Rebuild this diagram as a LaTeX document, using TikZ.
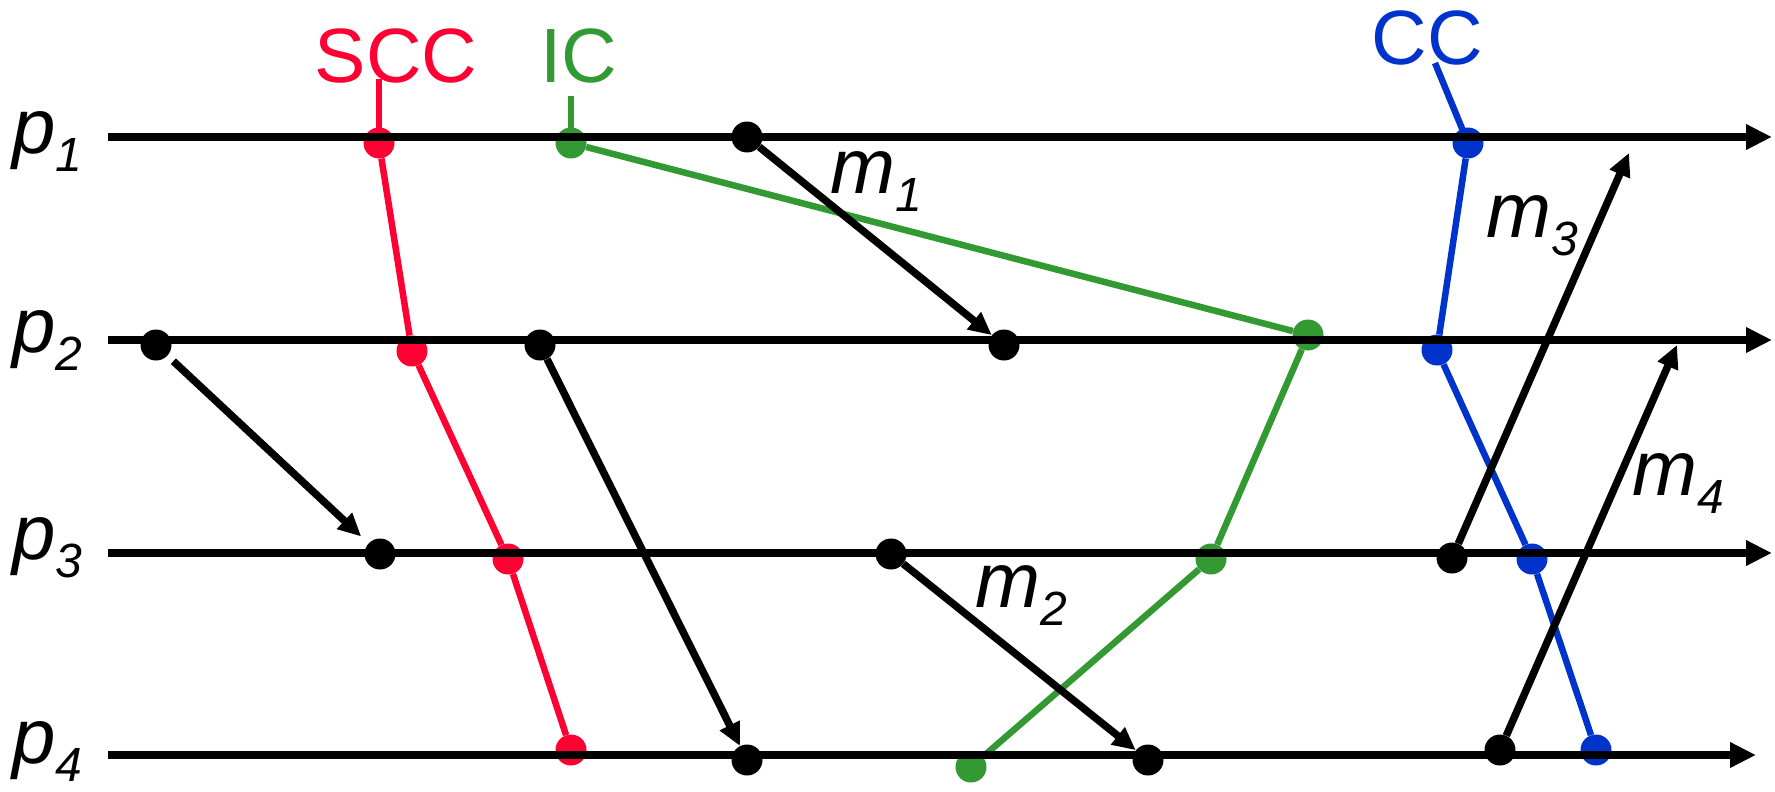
\documentclass[tikz,border=0pt]{standalone}
\usepackage{fontspec}
\setmainfont{Liberation Sans}
\usetikzlibrary{arrows.meta}
\definecolor{cred}{RGB}{255,0,51}
\definecolor{cgreen}{RGB}{51,153,51}
\definecolor{cblue}{RGB}{0,51,204}
\newcommand\mylab[2]{\textit{#1}\raisebox{-18pt}{\fontsize{48}{48}\selectfont\textit{#2}}}
\begin{document}
\begin{tikzpicture}[x=1pt,y=-1pt,
  dot/.style={circle,inner sep=0pt,minimum size=31pt,fill=black},
  rdot/.style={dot,fill=cred},
  gdot/.style={dot,fill=cgreen},
  bdot/.style={dot,fill=cblue},
  proc/.style={line width=8.3pt,-{Triangle[length=26pt,width=24pt]}},
  msg/.style={line width=7.5pt,-{Triangle[length=23pt,width=21pt]}},
  chain/.style={line width=6.5pt},
  lab/.style={inner sep=0pt,anchor=base west,font=\fontsize{78}{80}\selectfont},
  ttl/.style={inner sep=0pt,anchor=base,font=\fontsize{77}{80}\selectfont}]
\useasboundingbox (0,0) rectangle (1775,792);

% labels
\node[lab] (lp1) at (12,153) {\mylab{p}{1}};
\node[lab] (lp2) at (12,352) {\mylab{p}{2}};
\node[lab] (lp3) at (12,559) {\mylab{p}{3}};
\node[lab] (lp4) at (12,763) {\mylab{p}{4}};
\node[lab] (lm1) at (830,193) {\mylab{m}{1}};
\node[lab] (lm2) at (975,607) {\mylab{m}{2}};
\node[lab] (lm3) at (1486,237) {\mylab{m}{3}};
\node[lab] (lm4) at (1632,495) {\mylab{m}{4}};
\node[ttl,text=cred] (tscc) at (396,82) {SCC};
\node[ttl,text=cgreen] (tic) at (579,82) {IC};
\node[ttl,text=cblue] (tcc) at (1427,65) {CC};

% colored dots
\node[rdot] (r1) at (379,143) {};
\node[rdot] (r2) at (412,351) {};
\node[rdot] (r3) at (508,559) {};
\node[rdot] (r4) at (571,750) {};
\node[gdot] (g1) at (571,143) {};
\node[gdot] (g2) at (1308,335) {};
\node[gdot] (g3) at (1211,559) {};
\node[gdot] (g4) at (971,767) {};
\node[bdot] (c1) at (1468,143) {};
\node[bdot] (c2) at (1437,350) {};
\node[bdot] (c3) at (1532,559) {};
\node[bdot] (c4) at (1596,750) {};

\coordinate (tr) at (379,79);
\coordinate (tg) at (571,96);
\coordinate (tb) at (1435,63);

\draw[chain,cred] (tr) -- (r1.center);
\draw[chain,cgreen] (tg) -- (g1.center);
\draw[chain,cblue] (tb) -- (c1.center);
\draw[chain,cred] (r1) -- (r2) -- (r3) -- (r4);
\draw[chain,cgreen] (g1) -- (g2) -- (g3) -- (g4);
\draw[chain,cblue] (c1) -- (c2) -- (c3) -- (c4);

% process lines
\coordinate (s1) at (108,137); \coordinate (e1) at (1772,137);
\coordinate (s2) at (108,340); \coordinate (e2) at (1772,340);
\coordinate (s3) at (108,553); \coordinate (e3) at (1772,553);
\coordinate (s4) at (108,755); \coordinate (e4) at (1756,755);
\draw[proc] (s1) -- (e1);
\draw[proc] (s2) -- (e2);
\draw[proc] (s3) -- (e3);
\draw[proc] (s4) -- (e4);

% black dots
\node[dot] (k11) at (747,137) {};
\node[dot] (k21) at (156,345) {};
\node[dot] (k22) at (540,345) {};
\node[dot] (k23) at (1004,345) {};
\node[dot] (k31) at (380,554) {};
\node[dot] (k32) at (891,554) {};
\node[dot] (k33) at (1452,558) {};
\node[dot] (k41) at (747,760) {};
\node[dot] (k42) at (1148,760) {};
\node[dot] (k43) at (1500,750) {};

\coordinate (m3e) at (1629,153);
\coordinate (m4e) at (1677,345);

% messages
\draw[msg,shorten <=8pt,shorten >=10pt] (k21) -- (k31);
\draw[msg] (k22) -- (k41);
\draw[msg] (k11) -- (k23);
\draw[msg] (k32) -- (k42);
\draw[msg] (k33) -- (m3e);
\draw[msg] (k43) -- (m4e);
\end{tikzpicture}
\end{document}
